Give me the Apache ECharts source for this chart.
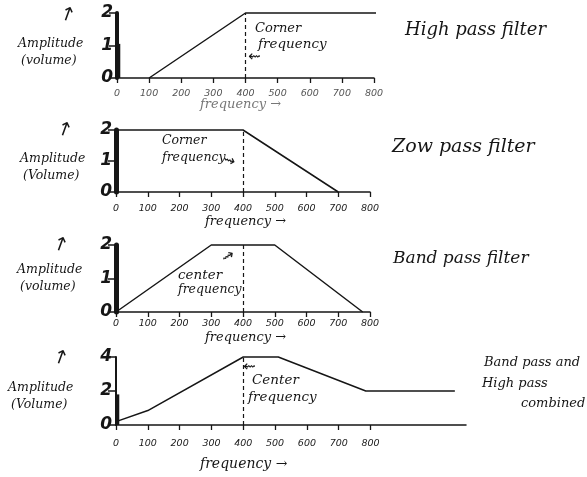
<!DOCTYPE html>
<html>
<head>
<meta charset="utf-8">
<style>
  html, body { margin: 0; padding: 0; background: #fff; }
  #chart { width: 587px; height: 477px; }
</style>
<script src="https://cdn.jsdelivr.net/npm/echarts@6/dist/echarts.min.js"></script>
</head>
<body>
<div id="chart"></div>
<script>
// Frequency response sketches for four kinds of filter.
const freqTicks = [0, 100, 200, 300, 400, 500, 600, 700, 800];

// [frequency, amplitude] corner points of each response curve
const highPass = [[100, 0], [400, 2], [845, 2]];
const lowPass = [[0, 2], [400, 2], [700, 0]];
const bandPass = [[0, 0], [300, 2], [500, 2], [777, 0]];
const combined = [[0, 0.2], [100, 0.85], [400, 4], [510, 4], [785, 2], [1065, 2]];

// low-frequency spikes drawn beside the amplitude axis
const highPassSpike = [[4, 1.05]];
const combinedSpike = [[4, 1.8]];

// corner / center frequency marked by the dashed line
const cornerHigh = 400;
const cornerLow = 400;
const centerBand = 400;
const centerCombined = 400;

const titles = ['High pass filter', 'Zow pass filter', 'Band pass filter'];
const combinedTitle = ['Band pass and', 'High pass', 'combined'];

const ink = '#161616';
const serifItalic = size => 'italic ' + size + 'px "DejaVu Serif", serif';

const grids = [
  { left: 117, top: 13, width: 257, height: 65 },
  { left: 116, top: 130, width: 254, height: 62 },
  { left: 116, top: 245, width: 254, height: 67 },
  { left: 116, top: 357, width: 350, height: 68 }
];
const xMax = [800, 800, 800, 1100];
const yMax = [2, 2, 2, 4];
const yStep = [1, 1, 1, 2];
const yAxisWidth = [4, 5, 5, 2];
const xLabelMargin = [11, 12, 7, 14];

const xAxes = grids.map((g, i) => ({
  type: 'value', gridIndex: i, min: 0, max: xMax[i], interval: 100,
  splitLine: { show: false },
  axisLine: { show: true, lineStyle: { color: ink, width: 1.5 } },
  axisTick: { show: true, customValues: freqTicks, length: 5, lineStyle: { color: ink, width: 1.3 } },
  axisLabel: {
    customValues: freqTicks, margin: xLabelMargin[i],
    color: i === 0 ? '#555' : '#222',
    fontFamily: '"DejaVu Sans", sans-serif', fontStyle: 'italic', fontSize: 9.5
  }
}));

const yAxes = grids.map((g, i) => ({
  type: 'value', gridIndex: i, min: 0, max: yMax[i], interval: yStep[i],
  splitLine: { show: false },
  axisLine: { show: true, lineStyle: { color: ink, width: yAxisWidth[i] } },
  axisTick: { show: true, length: 8, lineStyle: { color: ink, width: 1.5 } },
  axisLabel: {
    margin: 4, color: ink, fontFamily: '"DejaVu Sans", sans-serif',
    fontStyle: 'italic', fontWeight: 'bold', fontSize: 17
  }
}));

function curve(data, idx, marker) {
  return {
    type: 'line', xAxisIndex: idx, yAxisIndex: idx, data: data,
    symbol: 'none', clip: false, silent: true,
    lineStyle: { color: ink, width: 1.5 },
    markLine: {
      silent: true, symbol: 'none', label: { show: false },
      lineStyle: { color: ink, width: 1.2, type: [4, 3] },
      data: [{ xAxis: marker }]
    }
  };
}

function spike(data, idx) {
  return {
    type: 'bar', xAxisIndex: idx, yAxisIndex: idx, data: data,
    barWidth: 4, silent: true, itemStyle: { color: ink }
  };
}

// hand-lettered annotations
function note(x, y, text, font, extra) {
  return Object.assign({
    type: 'text', x: x, y: y, silent: true,
    style: { text: text, font: font, fill: (extra && extra.fill) || ink }
  }, (extra && extra.props) || {});
}

const ampLabels = [[18, 37], [20, 152], [17, 263], [8, 381]];
const ampNames = ['(volume)', '(Volume)', '(volume)', '(Volume)'];
const ampArrows = [[63, 4], [60, 119], [56, 234], [56, 347]];

const graphics = [];
ampLabels.forEach((p, i) => {
  graphics.push(note(p[0], p[1], 'Amplitude', serifItalic(12.5)));
  graphics.push(note(p[0] + 3, p[1] + 17, ampNames[i], serifItalic(12.5)));
  graphics.push(note(ampArrows[i][0], ampArrows[i][1], '↑', '19px "DejaVu Sans", sans-serif',
    { props: { rotation: -0.35 } }));
});

// panel titles
graphics.push(note(405, 21, titles[0], serifItalic(18)));
graphics.push(note(392, 138, titles[1], serifItalic(19)));
graphics.push(note(393, 250, titles[2], serifItalic(17)));
graphics.push(note(484, 356, combinedTitle[0], serifItalic(13)));
graphics.push(note(482, 377, combinedTitle[1], serifItalic(13)));
graphics.push(note(521, 397, combinedTitle[2], serifItalic(13)));

// corner / center frequency callouts
graphics.push(note(255, 22, 'Corner', serifItalic(13)));
graphics.push(note(258, 37, 'frequency', serifItalic(13.5)));
graphics.push(note(248, 50, '⇜', '15px "DejaVu Sans", sans-serif'));

graphics.push(note(162, 134, 'Corner', serifItalic(12.5)));
graphics.push(note(162, 151, 'frequency', serifItalic(12.5)));
graphics.push(note(225, 152, '⇝', '15px "DejaVu Sans", sans-serif', { props: { rotation: -0.3 } }));

graphics.push(note(178, 268, 'center', serifItalic(13.5)));
graphics.push(note(178, 283, 'frequency', serifItalic(12.5)));
graphics.push(note(219, 254, '⇝', '15px "DejaVu Sans", sans-serif', { props: { rotation: 0.6 } }));

graphics.push(note(252, 373, 'Center', serifItalic(13.5)));
graphics.push(note(248, 390, 'frequency', serifItalic(13.5)));
graphics.push(note(243, 360, '⇜', '15px "DejaVu Sans", sans-serif'));

// frequency axis captions
graphics.push(note(200, 98, 'frequency →', serifItalic(13), { fill: '#777' }));
graphics.push(note(205, 215, 'frequency →', serifItalic(13)));
graphics.push(note(205, 331, 'frequency →', serifItalic(13)));
graphics.push(note(200, 457, 'frequency →', serifItalic(14)));

const chart = echarts.init(document.getElementById('chart'), null, { renderer: 'canvas' });
chart.setOption({
  animation: false,
  backgroundColor: '#fff',
  grid: grids,
  xAxis: xAxes,
  yAxis: yAxes,
  series: [
    curve(highPass, 0, cornerHigh),
    spike(highPassSpike, 0),
    curve(lowPass, 1, cornerLow),
    curve(bandPass, 2, centerBand),
    curve(combined, 3, centerCombined),
    spike(combinedSpike, 3)
  ],
  graphic: graphics
});
</script>
</body>
</html>
